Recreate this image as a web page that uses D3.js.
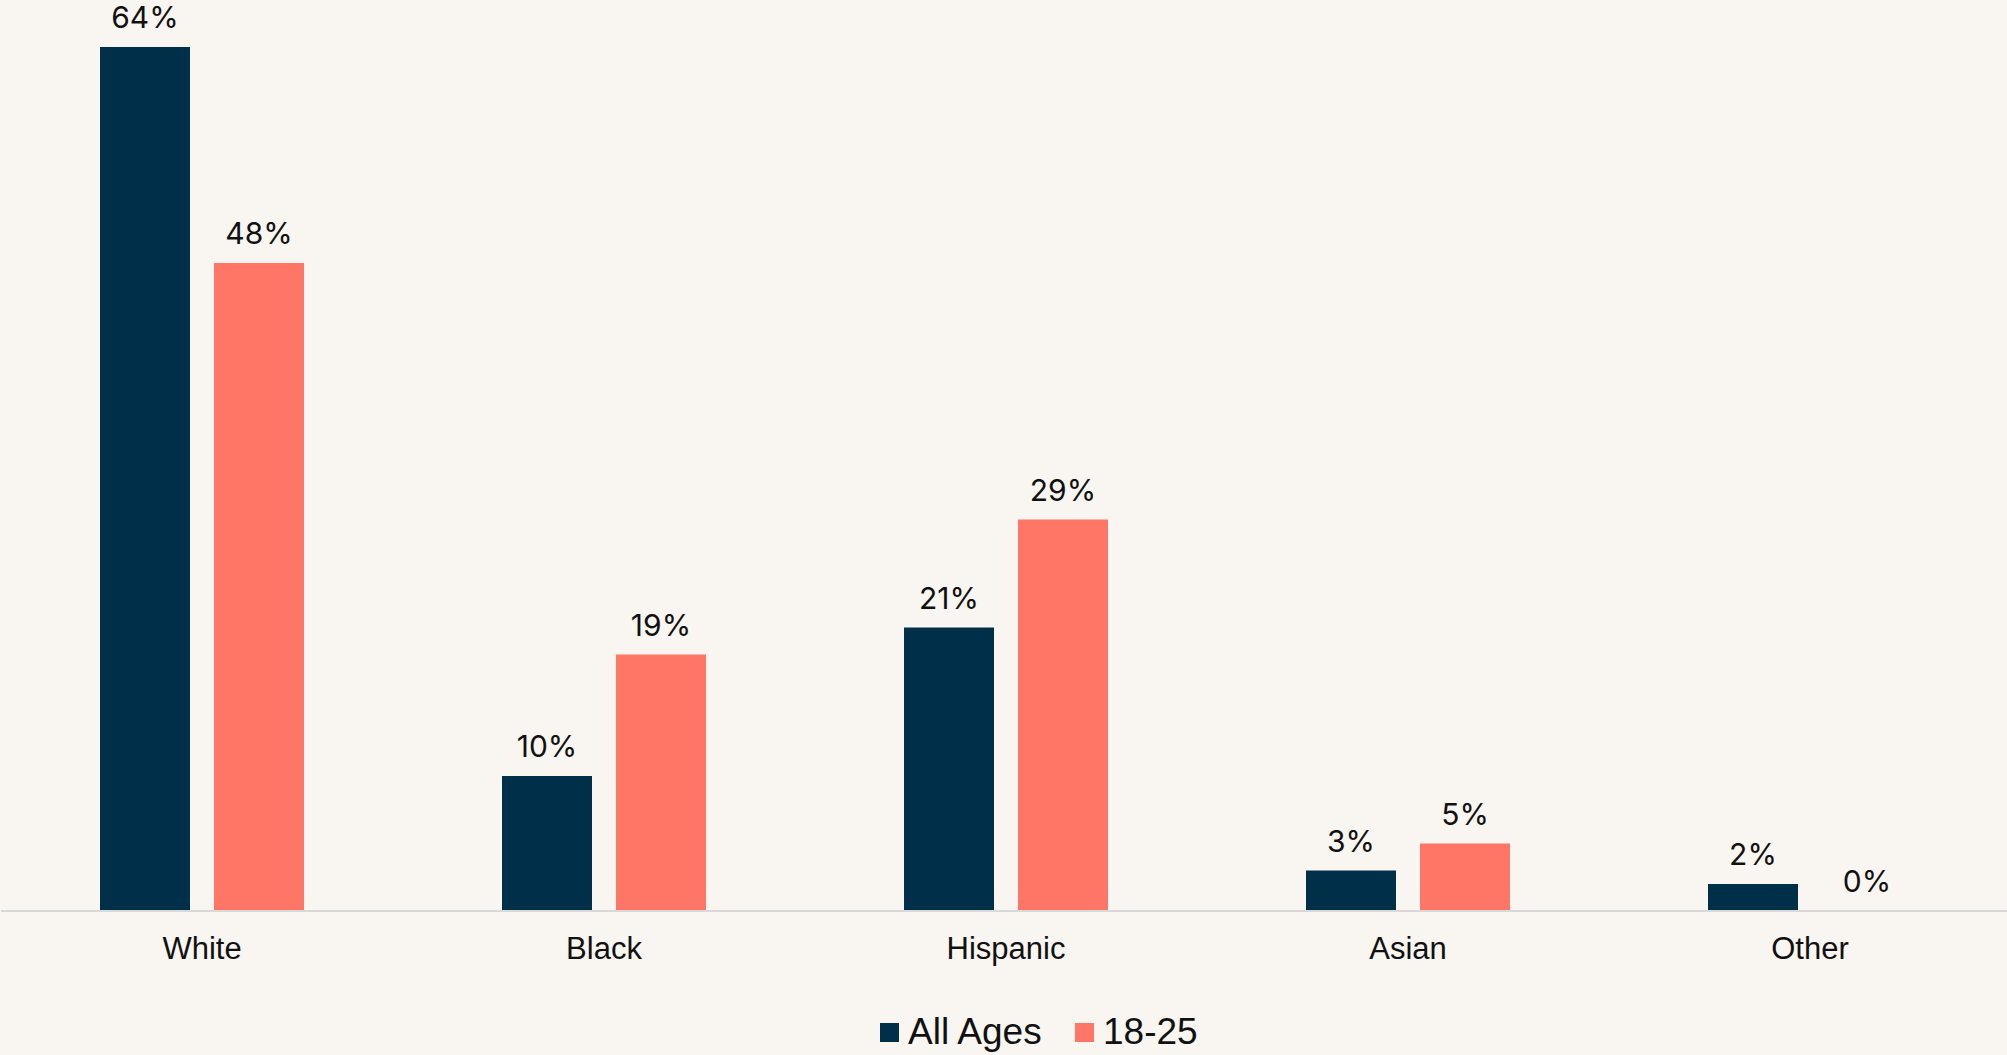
<!doctype html>
<html lang="en">
    <head>
        <meta charset="utf-8">
        <script src="https://d3js.org/d3.v7.min.js"></script>
        <style>
            body { margin: 0; background: #f9f6f1; }
        </style>
    </head>
    <body>
        <div id="viz"></div>
<script>

// data
const categories = ["White", "Black", "Hispanic", "Asian", "Other"];
const series = ["All Ages", "18-25"];
const allAges = [64, 10, 21, 3, 2];
const young = [48, 19, 29, 5, 0];

const colors = ["#003049", "#ff7566"];

const width = 2007, height = 1055;
const baseY = 911;

const values = [allAges, young];
const rows = [];
categories.forEach((c, i) => {
    series.forEach((s, j) => rows.push({cat: c, series: s, j: j, value: values[j][i]}));
});

const x = d3.scaleBand().domain(categories).range([1, 2011]);
const xInner = d3.scaleBand().domain(series).range([-102, 102]).paddingInner(0.2105);
const y = d3.scaleLinear().domain([0, 64]).range([baseY, 47]);

const svg = d3.select("#viz")
    .append("svg")
    .attr("width", width)
    .attr("height", height)
    .style("display", "block");

svg.append("rect")
    .attr("width", width)
    .attr("height", height)
    .attr("fill", "#f9f6f1");

const cx = c => x(c) + x.bandwidth() / 2;

// bars
svg.append("g")
    .selectAll("rect")
    .data(rows.filter(d => d.value > 0))
    .join("rect")
    .attr("x", d => cx(d.cat) + xInner(d.series))
    .attr("y", d => y(d.value))
    .attr("width", xInner.bandwidth())
    .attr("height", d => baseY - y(d.value))
    .attr("fill", d => colors[d.j]);

// value labels
svg.append("g")
    .selectAll("text")
    .data(rows)
    .join("text")
    .attr("x", d => cx(d.cat) + xInner(d.series) + xInner.bandwidth() / 2)
    .attr("y", d => y(d.value) - 19)
    .attr("text-anchor", "middle")
    .style("font", "30px Inter, sans-serif")
    .attr("fill", "#111")
    .text(d => d.value + "%");

// baseline + category axis
const axis = svg.append("g")
    .attr("transform", `translate(0,${baseY})`)
    .call(d3.axisBottom(x).tickSize(0).tickPadding(0));

axis.select(".domain")
    .attr("d", `M1,0H${width}`)
    .attr("stroke", "#d9d9d9")
    .attr("stroke-width", 2);

axis.selectAll("text")
    .attr("dy", null)
    .attr("y", 48)
    .attr("fill", "#111")
    .style("font", "31px 'Liberation Sans', Arial, sans-serif");

// legend
const legend = svg.append("g");
const legendX = [880, 1075];
series.forEach((s, j) => {
    legend.append("rect")
        .attr("x", legendX[j])
        .attr("y", 1023)
        .attr("width", 19)
        .attr("height", 19)
        .attr("fill", colors[j]);
    legend.append("text")
        .attr("x", legendX[j] + 28)
        .attr("y", 1044)
        .attr("fill", "#111")
        .style("font", "37px 'Liberation Sans', Arial, sans-serif")
        .text(s);
});

</script>
    </body>
</html>
